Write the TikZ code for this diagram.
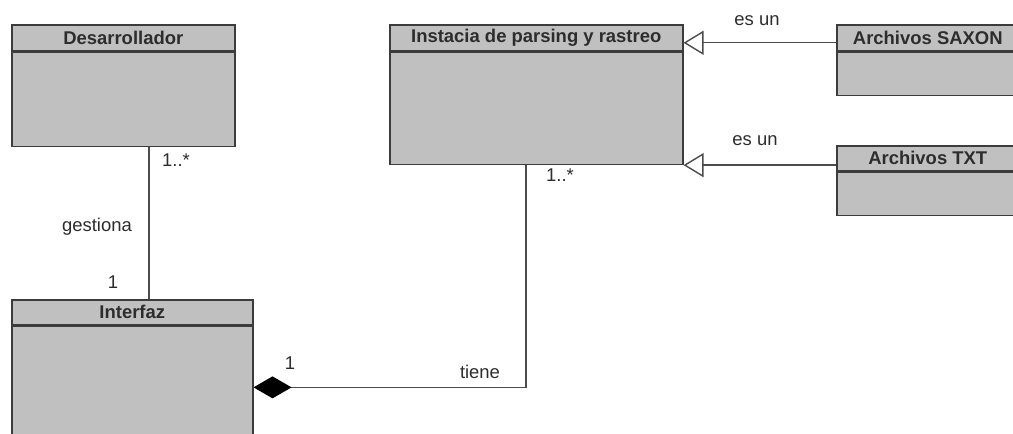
\documentclass[tikz,border=0pt]{standalone}
\usepackage{fontspec}
\setmainfont{Liberation Sans}
\usetikzlibrary{positioning,arrows.meta}
\definecolor{relleno}{RGB}{192,192,192}
\definecolor{borde}{RGB}{60,60,60}
\definecolor{texto}{RGB}{45,45,45}

\begin{document}
\begin{tikzpicture}[x=0.02cm,y=-0.02cm,
        cabecera/.style={draw=borde,fill=relleno,line width=0.9pt,anchor=north west,minimum height=0.52cm,inner sep=0pt,font=\bfseries\fontsize{10.5}{12}\selectfont,text=texto},
        cuerpo/.style={draw=borde,fill=relleno,line width=0.9pt,inner sep=0pt},
        linea/.style={draw=black!70,line width=0.8pt},
        generaliza/.style={{Triangle[open,length=0.4cm,width=0.48cm,fill=white]}-},
        compone/.style={{Diamond[length=0.76cm,width=0.44cm,color=black,fill=black]}-},
        etiqueta/.style={font=\fontsize{10.5}{12}\selectfont,text=texto,inner sep=0pt}]
    \clip (0,0) rectangle (1013,433);
    \fill[white] (0,0) rectangle (1013,433);

    \node[cabecera,minimum width=4.46cm] (desT) at (11,24) {Desarrollador};
    \node[cuerpo,minimum width=4.46cm,minimum height=1.88cm,below=0pt of desT] (des) {};
    \node[cabecera,minimum width=5.86cm] (instT) at (389,24) {Instacia de parsing y rastreo};
    \node[cuerpo,minimum width=5.86cm,minimum height=2.24cm,below=0pt of instT] (inst) {};
    \node[cabecera,minimum width=3.64cm] (saxT) at (836,24) {Archivos SAXON};
    \node[cuerpo,minimum width=3.64cm,minimum height=0.86cm,below=0pt of saxT] (sax) {};
    \node[cabecera,minimum width=3.64cm,minimum height=0.5cm] (txtT) at (836,145) {Archivos TXT};
    \node[cuerpo,minimum width=3.64cm,minimum height=0.86cm,below=0pt of txtT] (txt) {};
    \node[cabecera,minimum width=4.82cm,minimum height=0.5cm] (intT) at (11,299) {Interfaz};
    \node[cuerpo,minimum width=4.82cm,minimum height=2.44cm,below=0pt of intT] (int) {};

    \draw[linea] ([xshift=2.76cm]des.south west) -- ([xshift=2.76cm]intT.north west);
    \draw[linea,compone] (int.east) -| ([xshift=2.74cm]inst.south west);
    \draw[linea,generaliza] ([yshift=-0.1cm]saxT.west -| inst.east) -- ([yshift=-0.1cm]saxT.west);
    \draw[linea,generaliza] (inst.south east) -- (inst.south east -| txt.west);

    \node[etiqueta] (mulDes) at (176,160) {1..*};
    \node[etiqueta] (gestiona) at (97,227) {gestiona};
    \node[etiqueta] (mulInt) at (113,282) {1};
    \node[etiqueta] (mulInst) at (560,175) {1..*};
    \node[etiqueta] (mulDiam) at (290,363) {1};
    \node[etiqueta] (tiene) at (480,372) {tiene};
    \node[etiqueta] (esSax) at (757,21) {es un};
    \node[etiqueta] (esTxt) at (755,141) {es un};
\end{tikzpicture}
\end{document}
